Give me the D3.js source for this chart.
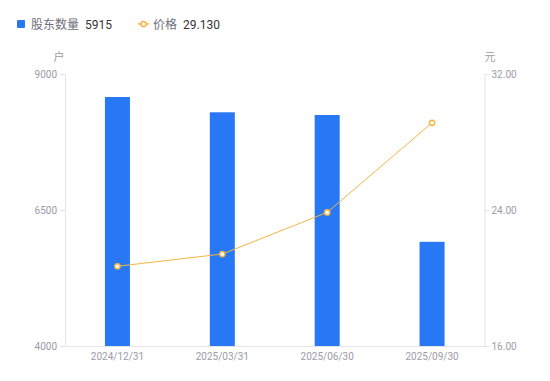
<!DOCTYPE html>
<html><head><meta charset="utf-8">
<script src="https://cdn.jsdelivr.net/npm/d3@7"></script>
<style>body{margin:0;background:#fff}svg{display:block;font-family:Roboto,"Noto Sans CJK SC",sans-serif}</style>
</head><body><svg id="c" width="550" height="381"></svg>
<script>
const categories = ["2024/12/31","2025/03/31","2025/06/30","2025/09/30"];
const holders = [8577, 8296, 8246, 5915];
const prices = [20.69, 21.41, 23.86, 29.13];
const leftTicks = [4000, 6500, 9000];
const rightTicks = [16, 24, 32];

const svg = d3.select("#c");
const L = 65, R = 484.5, T = 74, B = 346;
const axisColor = "#e3e3e8", textColor = "#9b9ba8";
const barColor = "#2878f5", lineColor = "#f5b544";

const x = d3.scaleBand().domain(categories).range([L, R]).paddingInner(0).paddingOuter(0);
const yL = d3.scaleLinear().domain([4000, 9000]).range([B, T]);
const yR = d3.scaleLinear().domain([16, 32]).range([B, T]);

// axes
const gl = svg.append("g").attr("transform", `translate(${L},0)`)
  .call(d3.axisLeft(yL).tickValues(leftTicks).tickSize(5).tickPadding(3).tickFormat(d3.format("d")));
const gr = svg.append("g").attr("transform", `translate(${R},0)`)
  .call(d3.axisRight(yR).tickValues(rightTicks).tickSize(5).tickPadding(2).tickFormat(d3.format(".2f")));
const gb = svg.append("g").attr("transform", `translate(0,${B})`)
  .call(d3.axisBottom(x).tickSize(0).tickPadding(7));
[gl, gr, gb].forEach(g => {
  g.selectAll("path.domain").attr("stroke", axisColor);
  g.selectAll(".tick line").attr("stroke", axisColor);
  g.selectAll("text").attr("fill", textColor).attr("font-size", 10).attr("font-family", "Roboto, sans-serif");
});

// unit labels
svg.append("text").attr("x", 59).attr("y", 61).attr("text-anchor", "middle")
  .attr("fill", textColor).attr("font-size", 11).text("户");
svg.append("text").attr("x", 490).attr("y", 61).attr("text-anchor", "middle")
  .attr("fill", textColor).attr("font-size", 11).text("元");

// bars
const bw = 25;
svg.append("g").selectAll("rect").data(holders).join("rect")
  .attr("x", (d, i) => x(categories[i]) + x.bandwidth() / 2 - bw / 2)
  .attr("y", d => yL(d))
  .attr("width", bw)
  .attr("height", d => B - yL(d))
  .attr("fill", barColor);

// line
const line = d3.line().x((d, i) => x(categories[i]) + x.bandwidth() / 2).y(d => yR(d));
svg.append("path").datum(prices).attr("d", line).attr("fill", "none")
  .attr("stroke", lineColor).attr("stroke-width", 1);
svg.append("g").selectAll("circle").data(prices).join("circle")
  .attr("cx", (d, i) => x(categories[i]) + x.bandwidth() / 2)
  .attr("cy", d => yR(d)).attr("r", 2.6)
  .attr("fill", "#fff").attr("stroke", lineColor).attr("stroke-width", 1.5);

// legend
const lg = svg.append("g");
lg.append("rect").attr("x", 17).attr("y", 20).attr("width", 8).attr("height", 8).attr("rx", 1).attr("fill", barColor);
lg.append("text").attr("x", 31).attr("y", 28.5).attr("font-size", 12).attr("fill", "#6e6e7a").text("股东数量");
lg.append("text").attr("x", 85).attr("y", 28.5).attr("font-size", 12).attr("fill", "#333").text(d3.format("d")(holders[3]));
lg.append("line").attr("x1", 138).attr("x2", 149).attr("y1", 24).attr("y2", 24).attr("stroke", lineColor).attr("stroke-width", 1.5);
lg.append("circle").attr("cx", 143.5).attr("cy", 24).attr("r", 2.6).attr("fill", "#fff").attr("stroke", lineColor).attr("stroke-width", 1.5);
lg.append("text").attr("x", 153).attr("y", 28.5).attr("font-size", 12).attr("fill", "#6e6e7a").text("价格");
lg.append("text").attr("x", 183).attr("y", 28.5).attr("font-size", 12).attr("fill", "#333").text(d3.format(".3f")(prices[3]));
</script></body></html>
